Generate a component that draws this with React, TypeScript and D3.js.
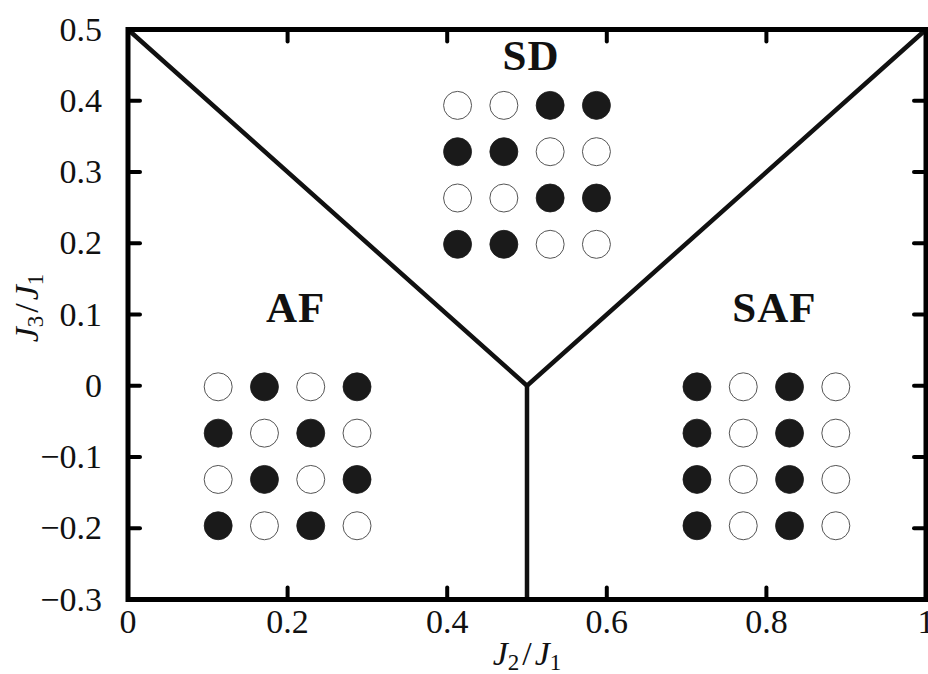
import React from 'react'
import * as d3 from 'd3'

// axis ticks
const xTicks = [0, 0.2, 0.4, 0.6, 0.8, 1]
const yTicks = [-0.3, -0.2, -0.1, 0, 0.1, 0.2, 0.3, 0.4, 0.5]

// phase boundaries (J2/J1, J3/J1)
const vBoundary: [number, number][] = [[0, 0.5], [0.5, 0], [1, 0.5]]
const stemBoundary: [number, number][] = [[0.5, 0], [0.5, -0.3]]

// phases: name, label position, spin pattern centre
const phaseNames = ['SD', 'AF', 'SAF']
const labelPos: [number, number][] = [[0.505, 0.443], [0.21, 0.09], [0.81, 0.09]]
const patternCentre: [number, number][] = [[0.5, 0.296], [0.2, -0.099], [0.8, -0.099]]
// rows top to bottom, 1 = filled spin
const patterns = [
  ['0011', '1100', '0011', '1100'],
  ['0101', '1010', '0101', '1010'],
  ['1010', '1010', '1010', '1010'],
]
const spinStep = { dx: 0.058, dy: 0.065 }

const W = 928
const H = 674
const margin = { top: 29.5, right: 2, bottom: 74.5, left: 128 }
const FONT = '"Liberation Serif", "DejaVu Serif", serif'

export default function App() {
  const x = d3.scaleLinear().domain([0, 1]).range([margin.left, W - margin.right])
  const y = d3.scaleLinear().domain([-0.3, 0.5]).range([H - margin.bottom, margin.top])
  const line = d3.line<[number, number]>().x(d => x(d[0])).y(d => y(d[1]))

  const fmt = (v: number) => {
    if (v === 0) return '0'
    if (v === 1) return '1'
    const s = Math.abs(v).toFixed(1)
    return v < 0 ? '\u2212' + s : s
  }

  const tickLen = 12
  const x0 = x(0), x1 = x(1), y0 = y(-0.3), y1 = y(0.5)

  const spins: { cx: number; cy: number; filled: boolean }[] = []
  patterns.forEach((rows, p) => {
    const [cxData, cyData] = patternCentre[p]
    rows.forEach((row, r) => {
      row.split('').forEach((c, k) => {
        spins.push({
          cx: x(cxData + (k - 1.5) * spinStep.dx),
          cy: y(cyData - (r - 1.5) * spinStep.dy),
          filled: c === '1',
        })
      })
    })
  })

  return (
    <svg width={W} height={H} style={{ position: 'absolute', left: 0, top: 0, background: '#fff' }}>
      {/* phase boundaries */}
      <path d={line(vBoundary) || ''} fill="none" stroke="#111" strokeWidth={4.5} />
      <path d={line(stemBoundary) || ''} fill="none" stroke="#111" strokeWidth={4.5} />

      {/* spin patterns */}
      {spins.map((s, i) => (
        <circle key={i} cx={s.cx} cy={s.cy} r={14}
          fill={s.filled ? '#1a1a1a' : '#fff'}
          stroke={s.filled ? '#1a1a1a' : '#555'} strokeWidth={s.filled ? 0.8 : 1} />
      ))}

      {/* phase labels */}
      {phaseNames.map((n, i) => (
        <text key={n} x={x(labelPos[i][0])} y={y(labelPos[i][1])} textAnchor="middle"
          fontFamily={FONT} fontWeight="bold" fontSize={43} letterSpacing={1} fill="#111">{n}</text>
      ))}

      {/* ticks on all four sides */}
      {xTicks.slice(1, -1).map(t => (
        <g key={'xt' + t} stroke="#000" strokeWidth={4} strokeLinecap="round">
          <line x1={x(t)} x2={x(t)} y1={y0} y2={y0 - tickLen} />
          <line x1={x(t)} x2={x(t)} y1={y1} y2={y1 + tickLen} />
        </g>
      ))}
      {yTicks.slice(1, -1).map(t => (
        <g key={'yt' + t} stroke="#000" strokeWidth={4} strokeLinecap="round">
          <line x1={x0} x2={x0 + tickLen} y1={y(t)} y2={y(t)} />
          <line x1={x1} x2={x1 - tickLen} y1={y(t)} y2={y(t)} />
        </g>
      ))}

      {/* frame */}
      <rect x={x0} y={y1} width={x1 - x0} height={y0 - y1} fill="none" stroke="#000" strokeWidth={5} />

      {/* tick labels */}
      {xTicks.map(t => (
        <text key={'xl' + t} x={x(t)} y={y0 + 33} textAnchor="middle"
          fontFamily={FONT} fontSize={34} fill="#111">{fmt(t)}</text>
      ))}
      {yTicks.map(t => (
        <text key={'yl' + t} x={x0 - 26} y={y(t) + 11} textAnchor="end"
          fontFamily={FONT} fontSize={34} fill="#111">{fmt(t)}</text>
      ))}

      {/* axis labels */}
      <text x={x(0.5)} y={665} textAnchor="middle" fontFamily={FONT} fontSize={34} fill="#111">
        <tspan fontStyle="italic">J</tspan>
        <tspan fontSize={23} dy={5}>2</tspan>
        <tspan dy={-5} dx={3}>/</tspan>
        <tspan fontStyle="italic" dx={3}>J</tspan>
        <tspan fontSize={23} dy={5}>1</tspan>
      </text>
      <text transform={`translate(38, 308) rotate(-90)`} textAnchor="middle"
        fontFamily={FONT} fontSize={34} fill="#111">
        <tspan fontStyle="italic">J</tspan>
        <tspan fontSize={23} dy={5}>3</tspan>
        <tspan dy={-5} dx={3}>/</tspan>
        <tspan fontStyle="italic" dx={3}>J</tspan>
        <tspan fontSize={23} dy={5}>1</tspan>
      </text>
    </svg>
  )
}
